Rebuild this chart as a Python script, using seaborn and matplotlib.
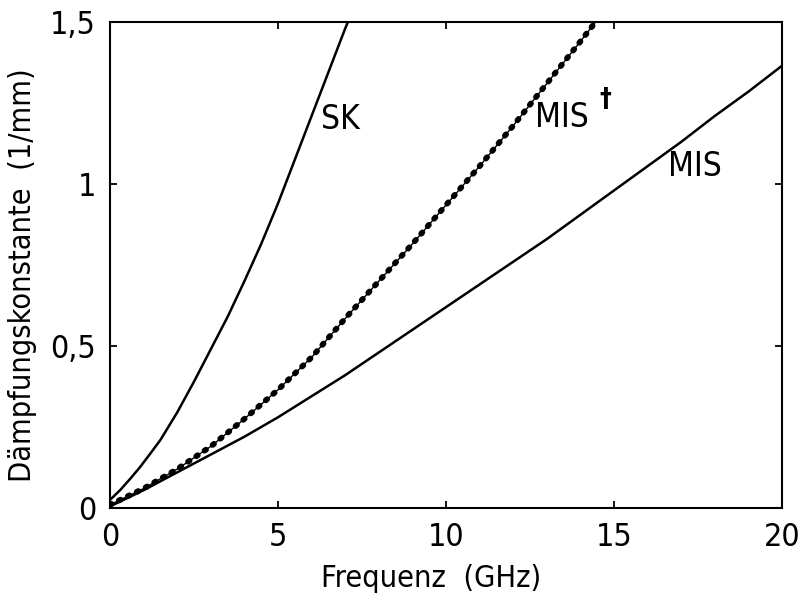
import matplotlib
matplotlib.use("Agg")
import matplotlib.pyplot as plt
import pandas as pd
import numpy as np
import seaborn as sns

# SK curve
sk_f = [0, 0.3, 0.6, 0.9, 1.2, 1.5, 2, 2.5, 3, 3.5, 4, 4.5, 5, 5.5, 6, 6.5, 7, 7.08]
sk_a = [0.025, 0.055, 0.09, 0.127, 0.168, 0.21, 0.295, 0.39, 0.49, 0.59, 0.70,
        0.815, 0.94, 1.075, 1.21, 1.345, 1.48, 1.5]

# MIS+ curve (dotted)
misp_f = [0, 1, 2, 3, 4, 5, 6, 7, 8, 9, 10, 11, 12, 13, 14, 14.45]
misp_a = [0.01, 0.06, 0.12, 0.19, 0.275, 0.365, 0.465, 0.585, 0.70, 0.815,
          0.935, 1.055, 1.18, 1.31, 1.44, 1.5]

# MIS curve
mis_f = [0, 1, 2, 3, 4, 5, 6, 7, 8, 9, 10, 11, 12, 13, 14, 15, 16, 17, 18, 19, 20]
mis_a = [0.005, 0.055, 0.11, 0.165, 0.22, 0.28, 0.345, 0.41, 0.48, 0.55, 0.62,
         0.69, 0.76, 0.83, 0.905, 0.98, 1.055, 1.13, 1.21, 1.285, 1.365]

x_ticks = [0, 5, 10, 15, 20]
x_ticklabels = ["0", "5", "10", "15", "20"]
y_ticks = [0, 0.5, 1, 1.5]
y_ticklabels = ["0", "0,5", "1", "1,5"]

sns.set_theme(style="ticks")
plt.rcParams['font.family'] = ['DejaVu Sans', 'Liberation Sans']
plt.rcParams['font.stretch'] = 'condensed'

fig = plt.figure(figsize=(8.04, 5.95), dpi=100)
ax = fig.add_axes([110 / 804, 87 / 595, 672 / 804, 486 / 595])

sk_df = pd.DataFrame({"f": sk_f, "a": sk_a})
misp_df = pd.DataFrame({"f": misp_f, "a": misp_a})
mis_df = pd.DataFrame({"f": mis_f, "a": mis_a})

sns.lineplot(x="f", y="a", data=sk_df, ax=ax, color="black", linewidth=1.8, sort=False)
sns.lineplot(x="f", y="a", data=mis_df, ax=ax, color="black", linewidth=1.8, sort=False)
sns.lineplot(x="f", y="a", data=misp_df, ax=ax, color="black", linewidth=1.0, sort=False)
# beads along the MIS+ curve
ax.plot(misp_f, misp_a, color="black", linewidth=4.2,
        linestyle=(0, (0.3, 1.4)), dash_capstyle="round")

ax.set_xlim(0, 20)
ax.set_ylim(0, 1.5)
ax.set_xticks(x_ticks)
ax.set_xticklabels(x_ticklabels)
ax.set_yticks(y_ticks)
ax.set_yticklabels(y_ticklabels)
ax.tick_params(direction="in", length=5, width=1.3, top=True, right=True,
               labelsize=23, pad=10, color="black", labelcolor="black")

for sp in ax.spines.values():
    sp.set_visible(True)
    sp.set_linewidth(1.5)
    sp.set_color("black")

ax.set_xlabel("Frequenz  (GHz)", fontsize=22, color="black")
ax.set_ylabel("Dämpfungskonstante  (1/mm)", fontsize=22, color="black")
ax.xaxis.set_label_coords(0.478, -0.115)
ax.yaxis.set_label_coords(-0.109, 0.479)

ax.text(6.85, 1.20, "SK", fontsize=24, ha="center", va="center", color="black")
ax.text(13.45, 1.206, "MIS", fontsize=24, ha="center", va="center", color="black")
ax.text(14.73, 1.26, "†", fontsize=19, ha="center", va="center", color="black",
        fontweight="bold")
ax.text(17.4, 1.055, "MIS", fontsize=24, ha="center", va="center", color="black")

plt.savefig("out.png", dpi=100)
